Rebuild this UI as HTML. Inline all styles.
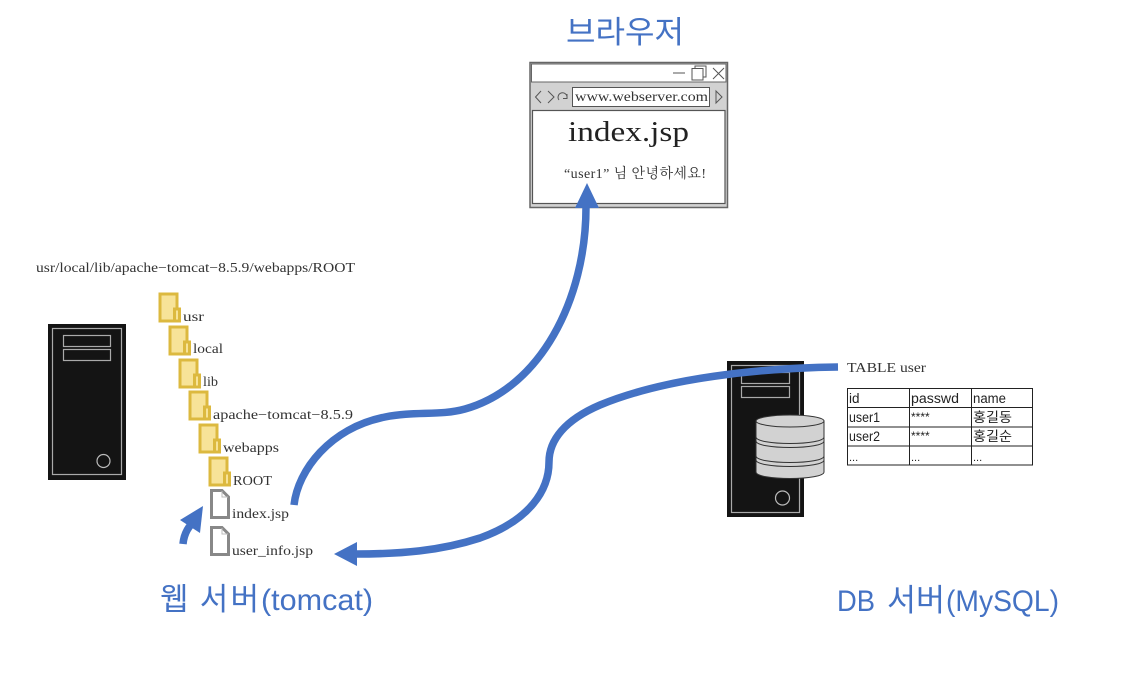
<!DOCTYPE html>
<html>
<head>
<meta charset="utf-8">
<style>
html,body{margin:0;padding:0;background:#fff;}
svg{display:block;}
.s{font-family:"Liberation Serif","Noto Serif CJK KR",serif;fill:#333;font-size:14px;}
.t{font-family:"Liberation Sans","Noto Sans CJK KR",sans-serif;fill:#4472c4;font-size:30px;}
.k{font-family:"Noto Sans CJK KR","Liberation Sans",sans-serif;fill:#4472c4;font-size:31px;font-weight:400;}
.c{font-family:"Liberation Sans","Noto Sans CJK KR",sans-serif;fill:#222;font-size:13.500px;}
</style>
</head>
<body>
<svg width="1122" height="691" viewBox="0 0 1122 691" xmlns="http://www.w3.org/2000/svg">
<rect width="1122" height="691" fill="#fff"/>

<text class="k" x="566" y="43" textLength="118" lengthAdjust="spacingAndGlyphs">브라우저</text>
<text class="k" x="160" y="610" textLength="99" lengthAdjust="spacing">웹 서버</text>
<text class="t" x="261" y="610" textLength="112" lengthAdjust="spacingAndGlyphs">(tomcat)</text>
<text class="t" x="837" y="611" textLength="38" lengthAdjust="spacingAndGlyphs">DB</text>
<text class="k" x="887" y="611" textLength="58" lengthAdjust="spacingAndGlyphs">서버</text>
<text class="t" x="946" y="611" textLength="113" lengthAdjust="spacingAndGlyphs">(MySQL)</text>

<!-- browser -->
<rect x="530" y="62.500" width="197.500" height="145" fill="#d2d2d2" stroke="#666" stroke-width="1.500"/>
<rect x="531.500" y="64" width="194.500" height="18" fill="#fff" stroke="#666" stroke-width="1"/>
<rect x="532.500" y="110.500" width="192.500" height="93" fill="#fff" stroke="#555" stroke-width="1.200"/>
<rect x="572.500" y="87.500" width="137" height="19" fill="#fff" stroke="#555" stroke-width="1"/>
<g fill="none" stroke="#555" stroke-width="1">
<path d="M673 73H685"/>
<rect x="692" y="68.500" width="11" height="11.500"/>
<path d="M695 68.500V66H706V77H703"/>
<path d="M713 68L724 79M724 68L713 79"/>
<path d="M541 91L535.500 97L541 103"/>
<path d="M548 91L554 97L548 103"/>
<path d="M567 98A4.500 4.500 0 1 0 559 100M567 94V98.500H563"/>
<path d="M716 91L722 97L716 103Z"/>
</g>
<text class="s" x="575" y="101" font-size="14" textLength="133" lengthAdjust="spacingAndGlyphs">www.webserver.com</text>
<text class="s" x="568" y="141" style="font-size:29px;fill:#222" textLength="121" lengthAdjust="spacingAndGlyphs">index.jsp</text>
<text class="s" x="564" y="178" textLength="142" lengthAdjust="spacing">“user1” 님 안녕하세요!</text>

<!-- web server -->
<rect x="48" y="324" width="78" height="156" fill="#141414"/>
<rect x="52.500" y="328.500" width="69" height="146" fill="none" stroke="#aaa" stroke-width="1.200"/>
<rect x="63.500" y="335.500" width="47" height="11" fill="none" stroke="#aaa" stroke-width="1.200"/>
<rect x="63.500" y="349.500" width="47" height="11" fill="none" stroke="#aaa" stroke-width="1.200"/>
<circle cx="103.500" cy="461" r="6.500" fill="none" stroke="#bbb" stroke-width="1.200"/>

<text class="s" x="36" y="272" textLength="319" lengthAdjust="spacingAndGlyphs">usr/local/lib/apache−tomcat−8.5.9/webapps/ROOT</text>

<!-- folders -->
<g fill="#f7e398" stroke="#dcb93f" stroke-width="3">
<rect x="160" y="294" width="17" height="27"/><rect x="174.500" y="309" width="5" height="12"/>
<rect x="170" y="327" width="17" height="27"/><rect x="184.500" y="342" width="5" height="12"/>
<rect x="180" y="360" width="17" height="27"/><rect x="194.500" y="375" width="5" height="12"/>
<rect x="190" y="392" width="17" height="27"/><rect x="204.500" y="407" width="5" height="12"/>
<rect x="200" y="425" width="17" height="27"/><rect x="214.500" y="440" width="5" height="12"/>
<rect x="210" y="458" width="17" height="27"/><rect x="224.500" y="473" width="5" height="12"/>
</g>
<text class="s" x="183" y="321" textLength="21" lengthAdjust="spacingAndGlyphs">usr</text>
<text class="s" x="193" y="353" textLength="30" lengthAdjust="spacingAndGlyphs">local</text>
<text class="s" x="203" y="386" textLength="15" lengthAdjust="spacingAndGlyphs">lib</text>
<text class="s" x="213" y="419" textLength="140" lengthAdjust="spacingAndGlyphs">apache−tomcat−8.5.9</text>
<text class="s" x="223" y="452" textLength="56" lengthAdjust="spacingAndGlyphs">webapps</text>
<text class="s" x="233" y="485" textLength="39" lengthAdjust="spacingAndGlyphs">ROOT</text>
<text class="s" x="232" y="518" textLength="57" lengthAdjust="spacingAndGlyphs">index.jsp</text>
<text class="s" x="232" y="555" textLength="81" lengthAdjust="spacingAndGlyphs">user_info.jsp</text>

<!-- files -->
<g fill="#fff" stroke="#888" stroke-width="3">
<path d="M211.500 490.500H222L228.500 497V517.500H211.500Z"/>
<path d="M211.500 527.500H222L228.500 534V554.500H211.500Z"/>
</g>
<path d="M222 491V497H228M222 528V534H228" fill="none" stroke="#bbb" stroke-width="1"/>

<!-- db server -->
<rect x="727" y="361" width="77" height="156" fill="#141414"/>
<rect x="731.500" y="365.500" width="68" height="147" fill="none" stroke="#aaa" stroke-width="1.200"/>
<rect x="741.500" y="372.500" width="48" height="11" fill="none" stroke="#aaa" stroke-width="1.200"/>
<rect x="741.500" y="386.500" width="48" height="11" fill="none" stroke="#aaa" stroke-width="1.200"/>
<circle cx="782.500" cy="498" r="7" fill="none" stroke="#bbb" stroke-width="1.200"/>
<g fill="#d2d2d2" stroke="#333" stroke-width="1">
<path d="M756 421V472C756 476 772 478.500 790 478.500S824 476 824 472V421Z"/>
<ellipse cx="790" cy="421" rx="34" ry="6"/>
<path d="M756 437C756 441 772 443.500 790 443.500S824 441 824 437" fill="none"/>
<path d="M756 441C756 445 772 447.500 790 447.500S824 445 824 441" fill="none"/>
<path d="M756 456C756 460 772 462.500 790 462.500S824 460 824 456" fill="none"/>
<path d="M756 460C756 464 772 466.500 790 466.500S824 464 824 460" fill="none"/>
</g>

<text class="s" x="847" y="372" textLength="79" lengthAdjust="spacingAndGlyphs">TABLE user</text>

<!-- table -->
<g fill="none" stroke="#222" stroke-width="1">
<rect x="847.500" y="388.500" width="185" height="76.500"/>
<path d="M909.500 388.500V465M971.500 388.500V465M847.500 407.500H1032.500M847.500 427H1032.500M847.500 446H1032.500"/>
</g>
<text class="c" x="849" y="403">id</text>
<text class="c" x="911" y="403" textLength="48" lengthAdjust="spacingAndGlyphs">passwd</text>
<text class="c" x="973" y="403" textLength="33" lengthAdjust="spacingAndGlyphs">name</text>
<text class="c" x="849" y="422" textLength="31" lengthAdjust="spacingAndGlyphs">user1</text>
<text class="c" x="911" y="421" style="font-size:12px">****</text>
<text class="c" x="973" y="422" textLength="39" lengthAdjust="spacingAndGlyphs">홍길동</text>
<text class="c" x="849" y="441" textLength="31" lengthAdjust="spacingAndGlyphs">user2</text>
<text class="c" x="911" y="440" style="font-size:12px">****</text>
<text class="c" x="973" y="441" textLength="39" lengthAdjust="spacingAndGlyphs">홍길순</text>
<text class="c" x="849" y="461" style="font-size:11px">...</text>
<text class="c" x="911" y="461" style="font-size:11px">...</text>
<text class="c" x="973" y="461" style="font-size:11px">...</text>

<!-- arrows -->
<g fill="none" stroke="#4472c4" stroke-width="7.500">
<path d="M294 505C298 470 330 428 385 417C415 411 440 416 465 409C540 388 586 300 586 207"/>
<path d="M838 367C760 368 665 378 600 405C565 420 549 440 549 462C549 490 530 520 480 538C440 551 400 554 356 554"/>
<path d="M183 544C184 533 189 525 197 519"/>
</g>
<g fill="#4472c4">
<path d="M587 183L599 208H575Z"/>
<path d="M334 554L357 542V566Z"/>
<path d="M203 506L200 533L180 520Z"/>
</g>
</svg>
</body>
</html>
